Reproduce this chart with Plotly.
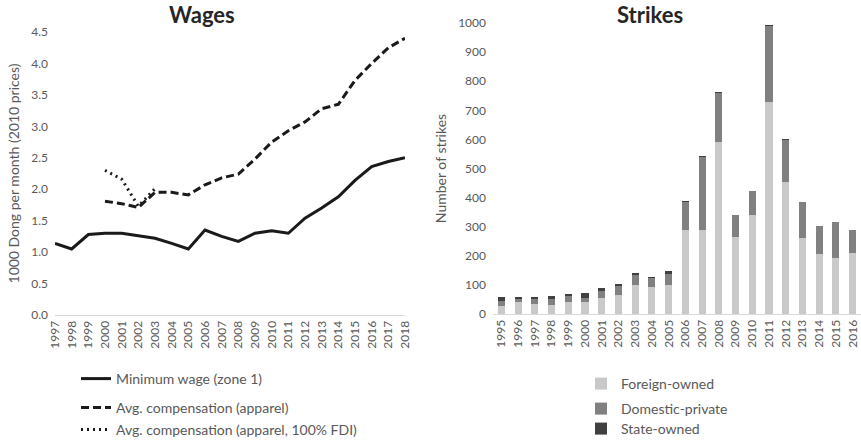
import plotly.graph_objects as go

# ---- Wages data ----
wage_years = [str(y) for y in range(1997, 2019)]
min_wage = [1.14, 1.05, 1.28, 1.30, 1.30, 1.26, 1.22, 1.14, 1.05, 1.35, 1.25, 1.17,
            1.30, 1.34, 1.30, 1.54, 1.70, 1.88, 2.14, 2.36, 2.44, 2.50]
comp_years = [str(y) for y in range(2000, 2019)]
avg_comp = [1.81, 1.77, 1.71, 1.95, 1.95, 1.91, 2.07, 2.18, 2.24, 2.48, 2.75, 2.93,
            3.07, 3.28, 3.35, 3.73, 4.00, 4.25, 4.40]
fdi_years = [str(y) for y in range(2000, 2004)]
avg_comp_fdi = [2.30, 2.16, 1.73, 2.01]

# ---- Strikes data ----
strike_years = [str(y) for y in range(1995, 2017)]
foreign = [29, 40, 34, 30, 42, 40, 54, 67, 101, 94, 101, 287, 287, 592, 264, 341, 730,
           452, 261, 206, 192, 209]
domestic = [17, 12, 16, 20, 23, 16, 26, 31, 36, 32, 37, 98, 253, 168, 77, 83, 260,
            146, 124, 97, 125, 78]
state = [14, 6, 9, 13, 2, 15, 10, 2, 3, 1, 9, 3, 1, 2, 0, 0, 2, 2, 0, 0, 0, 0]

FONT = "Lato"
TXT = "#595959"

fig = go.Figure()

line_common = dict(xaxis="x", yaxis="y", mode="lines")
fig.add_trace(go.Scatter(x=wage_years, y=min_wage, name="Minimum wage (zone 1)",
                         line=dict(color="#1a1a1a", width=3), legend="legend", **line_common))
fig.add_trace(go.Scatter(x=comp_years, y=avg_comp, name="Avg. compensation (apparel)",
                         line=dict(color="#1a1a1a", width=3, dash="8px,4px"), legend="legend2",
                         **line_common))
fig.add_trace(go.Scatter(x=fdi_years, y=avg_comp_fdi, name="Avg. compensation (apparel, 100% FDI)",
                         line=dict(color="#1a1a1a", width=3, dash="2px,4px"), legend="legend3",
                         **line_common))

bar_common = dict(xaxis="x2", yaxis="y2")
fig.add_trace(go.Bar(x=strike_years, y=foreign, name="Foreign-owned", marker_color="#c9c9c9",
                     marker_line_width=0, legend="legend4", **bar_common))
fig.add_trace(go.Bar(x=strike_years, y=domestic, name="Domestic-private", marker_color="#808080",
                     marker_line_width=0, legend="legend5", **bar_common))
fig.add_trace(go.Bar(x=strike_years, y=state, name="State-owned", marker_color="#404040",
                     marker_line_width=0, legend="legend6", **bar_common))

W = 861
H = 442


def px(x):
    return x / W


def py(y):
    return (H - y) / H


def leg(x, y):
    return dict(x=px(x), y=py(y), xanchor="left", yanchor="middle", bgcolor="rgba(0,0,0,0)",
                font=dict(family=FONT, size=14, color=TXT), itemwidth=30,
                tracegroupgap=0, itemclick=False, visible=True)


axis_font = dict(family=FONT, size=12, color=TXT)
title_font = dict(family=FONT, size=14, color=TXT)

fig.update_layout(
    width=W, height=H,
    margin=dict(l=0, r=0, t=0, b=0, autoexpand=False),
    paper_bgcolor="white", plot_bgcolor="white",
    showlegend=True,
    barmode="stack", bargap=0.58,
    font=dict(family=FONT, color=TXT),
    xaxis=dict(domain=[px(55), px(405)], type="category", tickangle=-90, tickfont=axis_font,
               showgrid=False, showline=True, linecolor="#d9d9d9", linewidth=1, ticks="",
               zeroline=False, anchor="y", automargin=False),
    yaxis=dict(domain=[py(315), py(32)], range=[0, 4.5], dtick=0.5, tickformat=".1f",
               tickfont=axis_font, showgrid=False, showline=False, zeroline=False, ticks="",
               ticklabelstandoff=6,
               title=dict(text="1000 Dong per month (2010 prices)", font=title_font, standoff=8),
               anchor="x", automargin=False),
    xaxis2=dict(domain=[px(493), 1.0], type="category", tickangle=-90, tickfont=axis_font,
                showgrid=False, showline=True, linecolor="#d9d9d9", linewidth=1, ticks="",
                zeroline=False, anchor="y2", automargin=False),
    yaxis2=dict(domain=[py(314), py(23)], range=[0, 1000], dtick=100, tickfont=axis_font,
                showgrid=False, showline=False, zeroline=False, ticks="",
                ticklabelstandoff=6,
                title=dict(text="Number of strikes", font=title_font, standoff=8),
                anchor="x2", automargin=False),
    legend=leg(76, 379),
    legend2=leg(76, 408),
    legend3=leg(76, 430),
    legend4=leg(581, 384),
    legend5=leg(581, 409),
    legend6=leg(581, 429),
    annotations=[
        dict(text="<b>Wages</b>", x=px(202), y=py(15), xref="paper", yref="paper",
             showarrow=False, font=dict(family=FONT, size=22, color="#262626"),
             xanchor="center", yanchor="middle"),
        dict(text="<b>Strikes</b>", x=px(650), y=py(15), xref="paper", yref="paper",
             showarrow=False, font=dict(family=FONT, size=22, color="#262626"),
             xanchor="center", yanchor="middle"),
    ],
)

# remove the default 8px page margin so the figure fills the window exactly
fig.write_html("out.html", config={"displayModeBar": False},
               post_script="document.body.style.margin='0';")
